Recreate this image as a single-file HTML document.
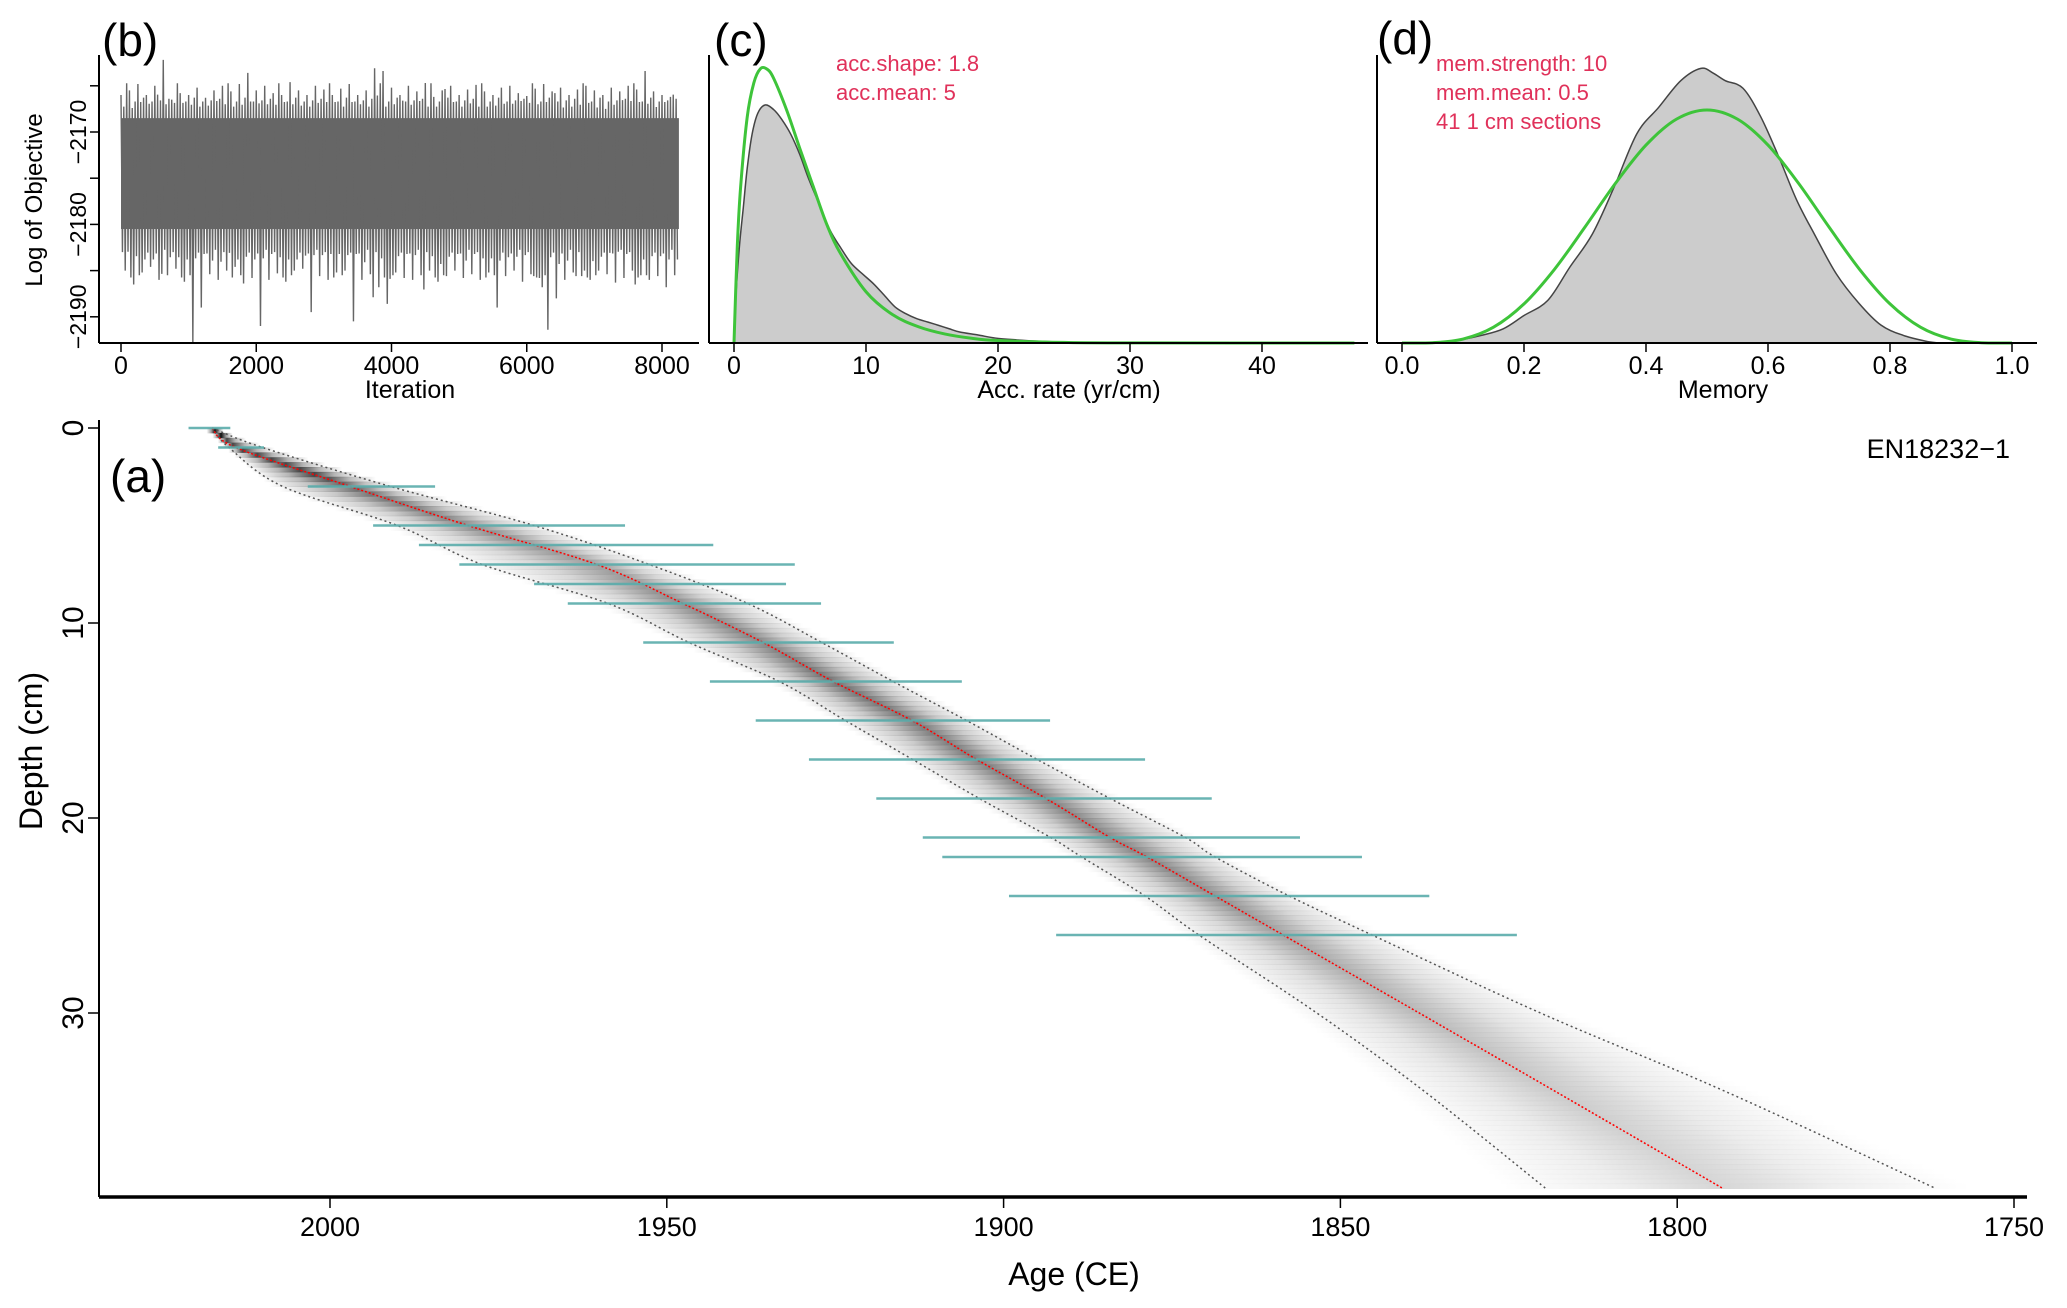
<!DOCTYPE html>
<html><head><meta charset="utf-8"><style>
html,body{margin:0;padding:0;background:#fff}
svg{display:block}
text{font-family:"Liberation Sans",sans-serif}
</style></head><body>
<svg id="fig" width="2067" height="1308" viewBox="0 0 2067 1308" xmlns="http://www.w3.org/2000/svg">
<defs id="defs"></defs>
<g id="pb"></g>
<g id="pc"></g>
<g id="pd"></g>
<g id="pa"></g>
</svg>
<script>
// ---------- data ----------
const traceHi = [-2166,-2165.5,-2164.8,-2166,-2165,-2162.2,-2166.5,-2165.8,-2166,-2165.2,-2166.3,-2165.5,-2165,-2165.6,-2164.8,-2163.6,-2165.5,-2165,-2165.8,-2166,-2164.6,-2165.5,-2166,-2165,-2165.4,-2166,-2165.3,-2164.8,-2166,-2165.5,-2163.1,-2163.4,-2165.2,-2166,-2165,-2165.6,-2164.7,-2166.2,-2165.5,-2165,-2166,-2165.4,-2164.9,-2165.6,-2166,-2165.2,-2165,-2165.8,-2166.1,-2165.3,-2164.8,-2165.6,-2165.2,-2166,-2165.4,-2165,-2165.5,-2166,-2165.2,-2165.6,-2165,-2165.4,-2163.4,-2165.6,-2166,-2166.2];
const traceLo = [-2185,-2186.5,-2185.2,-2184.6,-2186,-2185.5,-2184.8,-2186.2,-2192.8,-2189,-2185.4,-2186,-2185,-2184.6,-2186.4,-2185.8,-2191,-2186,-2185.3,-2186.2,-2185,-2184.8,-2189.5,-2185.6,-2186,-2185.2,-2185,-2190.5,-2186,-2185.4,-2186.8,-2188.6,-2185.2,-2185.8,-2186,-2185.5,-2185,-2186.2,-2185.6,-2185,-2185.8,-2185.4,-2186,-2185.2,-2189,-2185.6,-2185,-2186.2,-2185.4,-2185.8,-2191.4,-2188,-2186,-2185.2,-2185.6,-2186,-2185,-2185.4,-2186.3,-2185.8,-2185,-2185.5,-2186,-2185.6,-2186.8,-2185.5];
const traceCore = [-2168.5, -2180.5];
const traceIterMax = 8250;
const bTicksX = [0,2000,4000,6000,8000];
const bTicksY = [-2165,-2170,-2175,-2180,-2185,-2190];
const bTickLabelsY = ["","\u22122170","","\u22122180","","\u22122190"];

const accX     = [0,0.25,0.5,1,1.5,2,2.5,3,4,5,6,7,8,10,12,14,16,18,20,25,30,47];
const accPrior = [0,0.051,0.082,0.119,0.137,0.1445,0.1443,0.1395,0.1225,0.1022,0.0825,0.063,0.048,0.027,0.015,0.0085,0.0047,0.0025,0.0013,0.0003,0.00005,0];
const accPostX = [0,0.1,0.4,0.71,1.0,1.37,1.8,2.35,3.0,3.6,4.3,5.0,5.6,6.4,7.28,8.1,8.9,9.8,10.6,11.4,12.2,13.0,13.85,14.7,15.5,16.3,17.1,18.5,19.8,21.5,23.1,26,30,47];
const accPost  = [0,0.02,0.05,0.0717,0.092,0.110,0.121,0.1254,0.123,0.118,0.110,0.099,0.0875,0.074,0.0594,0.050,0.0418,0.036,0.031,0.025,0.019,0.0155,0.0128,0.011,0.0093,0.0075,0.0058,0.0042,0.0026,0.0016,0.0009,0.0003,0.0001,0];
const accTicks = [0,10,20,30,40];

const memX     = [0,0.05,0.1,0.15,0.2,0.25,0.3,0.35,0.4,0.45,0.5,0.55,0.6,0.65,0.7,0.75,0.8,0.85,0.9,0.95,1];
const memPrior = [0,0.0032,0.0413,0.1665,0.413,0.7787,1.225,1.687,2.09,2.364,2.461,2.364,2.09,1.687,1.225,0.7787,0.413,0.1665,0.0413,0.0032,0];
const memPostX = [0,0.057,0.1,0.13,0.166,0.2,0.239,0.275,0.312,0.348,0.385,0.421,0.457,0.49,0.51,0.53,0.559,0.588,0.618,0.647,0.676,0.712,0.749,0.785,0.822,0.858,0.88];
const memPost  = [0,0.01,0.04,0.08,0.15,0.29,0.45,0.80,1.15,1.65,2.21,2.49,2.77,2.90,2.85,2.77,2.69,2.39,1.96,1.51,1.15,0.73,0.42,0.19,0.08,0.02,0];
const memTicks = [0,0.2,0.4,0.6,0.8,1.0];
const memTickLabels = ["0.0","0.2","0.4","0.6","0.8","1.0"];

const modelDepths = [0,1,3,5,7,9,11,13,15,17,19,21,22,24,26,30,34,39];
const modelMedian = [2017.5,2014,1997,1979.5,1960.4,1947.6,1935.7,1925.3,1913.6,1904,1893.7,1884.2,1878.7,1868.6,1858.5,1838.3,1818.2,1793.2];
const modelYoung  = [2017.5,2015,2007,1990,1977.4,1958.7,1946.7,1933.3,1923.5,1913.5,1903.6,1893,1888.4,1879,1871,1853.5,1837.6,1819.5];
const modelOld    = [2017.5,2010,1991,1969.7,1952.6,1938,1927,1916.4,1905.5,1895,1884.2,1873,1868.6,1857.6,1845.3,1820.3,1793,1761.6];

const dateDepths = [0,1,3,5,6,7,8,9,11,13,15,17,19,21,22,24,26];
const dateYoung  = [2021,2016.6,2003.3,1993.6,1986.8,1980.8,1969.7,1964.7,1953.5,1943.6,1936.8,1928.9,1918.9,1912.0,1909.1,1899.2,1892.2];
const dateOld    = [2014.8,2009.8,1984.4,1956.2,1943.1,1931.0,1932.3,1927.1,1916.3,1906.2,1893.1,1879.0,1869.1,1856.0,1846.8,1836.8,1823.8];

const ageTicks = [2000,1950,1900,1850,1800,1750];
const depthTicks = [0,10,20,30];
const maxDepth = 39;

// ---------- helpers ----------
const NS = "http://www.w3.org/2000/svg";
function mk(tag, attrs, parent){const e=document.createElementNS(NS,tag);for(const k in attrs)e.setAttribute(k,attrs[k]);parent.appendChild(e);return e;}
function txt(s, attrs, parent){const e=mk("text",attrs,parent);e.textContent=s;return e;}
function interp(xs, ys, x){for(let i=1;i<xs.length;i++){if(x<=xs[i]){const t=(x-xs[i-1])/(xs[i]-xs[i-1]);return ys[i-1]+t*(ys[i]-ys[i-1]);}}return ys[ys.length-1];}
function smooth(pts){
  let d="M"+pts[0][0]+","+pts[0][1];
  for(let i=0;i<pts.length-1;i++){
    const p0=pts[i-1]||pts[i], p1=pts[i], p2=pts[i+1], p3=pts[i+2]||p2;
    const c1=[p1[0]+(p2[0]-p0[0])/6, p1[1]+(p2[1]-p0[1])/6];
    const c2=[p2[0]-(p3[0]-p1[0])/6, p2[1]-(p3[1]-p1[1])/6];
    d+=` C${c1[0]},${c1[1]} ${c2[0]},${c2[1]} ${p2[0]},${p2[1]}`;
  }
  return d;
}

// ---------- panel b ----------
const pb=document.getElementById("pb");
const xb=it=>121+it*(541/8000);
const yb=v=>132+(-2170-v)*9.24;
{
  const n=Math.min(traceHi.length,traceLo.length);
  const w=traceIterMax/n;
  const core=mk("rect",{x:xb(0),y:yb(traceCore[0]),width:xb(traceIterMax)-xb(0),height:yb(traceCore[1])-yb(traceCore[0]),fill:"#666"},pb);
  
  
  let pts=[];
  for(let i=0;i<n;i++){
    const j=(i*7+3)%n, k=(i*11+5)%n;
    pts.push(xb(i*w)+","+yb(traceHi[i]));
    pts.push(xb(i*w+w*0.17)+","+yb((traceLo[k]+traceCore[1])/2));
    pts.push(xb(i*w+w*0.33)+","+yb((traceHi[j]+traceCore[0])/2));
    pts.push(xb(i*w+w*0.5)+","+yb(traceLo[i]));
    pts.push(xb(i*w+w*0.67)+","+yb((traceHi[k]*0.6+traceCore[0]*0.4)));
    pts.push(xb(i*w+w*0.83)+","+yb((traceLo[j]*0.6+traceCore[1]*0.4)));
  }
  const pl=mk("polyline",{points:pts.join(" "),fill:"none",stroke:"#666","stroke-width":1.4},pb);
  
  
  mk("line",{x1:99,y1:55,x2:99,y2:343,stroke:"#000","stroke-width":2},pb);
  mk("line",{x1:99,y1:343,x2:699,y2:343,stroke:"#000","stroke-width":2},pb);
  bTicksX.forEach(t=>{mk("line",{x1:xb(t),x2:xb(t),y1:343,y2:352,stroke:"#000","stroke-width":1.5},pb);
    const e=txt(String(t),{x:xb(t),y:374,"font-size":25,"text-anchor":"middle"},pb);
    
    });
  bTicksY.forEach((t,i)=>{mk("line",{x1:99,x2:90,y1:yb(t),y2:yb(t),stroke:"#000","stroke-width":1.5},pb);
    if(bTickLabelsY[i]){const e=txt(bTickLabelsY[i],{x:0,y:0,"font-size":23,"text-anchor":"middle",transform:`translate(86,${yb(t)}) rotate(-90)`},pb);
    
    }});
  const xl=txt("Iteration",{x:410,y:398,"font-size":25,"text-anchor":"middle"},pb);
  
  
  const yl=txt("Log of Objective",{x:0,y:0,"font-size":24,"text-anchor":"middle",transform:"translate(42,200) rotate(-90)"},pb);
  
  
  const pl2=txt("(b)",{x:102,y:56,"font-size":46},pb);
  
  
}

// ---------- panel c ----------
const pc=document.getElementById("pc");
const xc=a=>734+a*13.2;
const yc=d=>343-d*1898;
{
  const pp=accPostX.map((x,i)=>[xc(x),yc(accPost[i])]);
  const post=mk("path",{d:smooth(pp)+" Z",fill:"#cccccc",stroke:"#444","stroke-width":1.5},pc);
  
  
  const pr=mk("path",{d:smooth(accX.map((x,i)=>[xc(x),yc(accPrior[i])])),fill:"none",stroke:"#3ec43a","stroke-width":3},pc);
  
  
  mk("line",{x1:709,y1:55,x2:709,y2:343,stroke:"#000","stroke-width":2},pc);
  mk("line",{x1:709,y1:343,x2:1368,y2:343,stroke:"#000","stroke-width":2},pc);
  accTicks.forEach(t=>{mk("line",{x1:xc(t),x2:xc(t),y1:343,y2:352,stroke:"#000","stroke-width":1.5},pc);
    const e=txt(String(t),{x:xc(t),y:374,"font-size":25,"text-anchor":"middle"},pc);
    
    });
  const xl=txt("Acc. rate (yr/cm)",{x:1069,y:398,"font-size":25,"text-anchor":"middle"},pc);
  
  
  const a1=txt("acc.shape: 1.8",{x:836,y:71,"font-size":22,fill:"#e0315a"},pc);
  
  
  const a2=txt("acc.mean: 5",{x:836,y:100,"font-size":22,fill:"#e0315a"},pc);
  
  
  const l=txt("(c)",{x:714,y:56,"font-size":46},pc);
  
  
}

// ---------- panel d ----------
const pd=document.getElementById("pd");
const xd=m=>1402+m*610;
const ydm=d=>343-d*94.7;
{
  const pp=memPostX.map((x,i)=>[xd(x),ydm(memPost[i])]);
  const post=mk("path",{d:smooth(pp)+" Z",fill:"#cccccc",stroke:"#444","stroke-width":1.5},pd);
  
  
  const pr=mk("path",{d:smooth(memX.map((x,i)=>[xd(x),ydm(memPrior[i])])),fill:"none",stroke:"#3ec43a","stroke-width":3},pd);
  
  
  mk("line",{x1:1377,y1:55,x2:1377,y2:343,stroke:"#000","stroke-width":2},pd);
  mk("line",{x1:1377,y1:343,x2:2037,y2:343,stroke:"#000","stroke-width":2},pd);
  memTicks.forEach((t,i)=>{mk("line",{x1:xd(t),x2:xd(t),y1:343,y2:352,stroke:"#000","stroke-width":1.5},pd);
    const e=txt(memTickLabels[i],{x:xd(t),y:374,"font-size":25,"text-anchor":"middle"},pd);
    
    });
  const xl=txt("Memory",{x:1723,y:398,"font-size":25,"text-anchor":"middle"},pd);
  
  
  const a1=txt("mem.strength: 10",{x:1436,y:71,"font-size":22,fill:"#e0315a"},pd);
  
  
  const a2=txt("mem.mean: 0.5",{x:1436,y:100,"font-size":22,fill:"#e0315a"},pd);
  
  
  const a3=txt("41 1 cm sections",{x:1436,y:129,"font-size":22,fill:"#e0315a"},pd);
  
  
  const l=txt("(d)",{x:1377,y:54,"font-size":46},pd);
  
  
}

// ---------- panel a ----------
const pa=document.getElementById("pa");
const defs=document.getElementById("defs");
const xa=age=>330+(2000-age)*6.736;
const ya=d=>428+d*19.5;
{
  const step=0.25;
  for(let d=0; d<maxDepth-0.001; d+=step){
    const dm=d+step/2;
    const m=xa(interp(modelDepths,modelMedian,dm));
    const l=xa(interp(modelDepths,modelYoung,dm));
    const r=xa(interp(modelDepths,modelOld,dm));
    const w=Math.max(r-l,14);
    const x0=Math.min(l,m-7)-w*0.1, x1=Math.max(r,m+7)+w*0.1;
    const inten=dm<0.6?0.95:Math.min(0.72,62/w);
    const g=Math.round(255*(1-inten));
    const id="g"+Math.round(d*100);
    const lg=mk("linearGradient",{id:id,gradientUnits:"userSpaceOnUse",x1:x0,y1:0,x2:x1,y2:0},defs);
    const f=(m-x0)/(x1-x0);
    const col=`rgb(${g},${g},${g})`;
    mk("stop",{offset:0,"stop-color":col,"stop-opacity":0},lg);
    mk("stop",{offset:f*0.55,"stop-color":col,"stop-opacity":0.4},lg);
    mk("stop",{offset:f,"stop-color":col,"stop-opacity":1},lg);
    mk("stop",{offset:f+(1-f)*0.45,"stop-color":col,"stop-opacity":0.4},lg);
    mk("stop",{offset:1,"stop-color":col,"stop-opacity":0},lg);
    const rc=mk("rect",{x:x0,y:ya(d),width:x1-x0,height:ya(d+step)-ya(d)+0.5,fill:`url(#${id})`},pa);
    
    
  }
  const lineOf=arr=>smooth(modelDepths.map((d,i)=>[xa(arr[i]),ya(d)]));
  const yl=mk("path",{d:lineOf(modelYoung),fill:"none",stroke:"#555","stroke-width":1.5,"stroke-dasharray":"2 3"},pa);
  
  
  const ol=mk("path",{d:lineOf(modelOld),fill:"none",stroke:"#555","stroke-width":1.5,"stroke-dasharray":"2 3"},pa);
  
  
  const ml=mk("path",{d:lineOf(modelMedian),fill:"none",stroke:"#ff0000","stroke-width":1.5,"stroke-dasharray":"2 2"},pa);
  
  
  dateDepths.forEach((d,i)=>{
    const b=mk("line",{x1:xa(dateYoung[i]),x2:xa(dateOld[i]),y1:ya(d),y2:ya(d),stroke:"#5aacab","stroke-width":2.5,"stroke-opacity":0.9},pa);
    
    
  });
  mk("line",{x1:99,y1:420,x2:99,y2:1197,stroke:"#000","stroke-width":2},pa);
  mk("line",{x1:99,y1:1197,x2:2027,y2:1197,stroke:"#000","stroke-width":3.5},pa);
  ageTicks.forEach(t=>{mk("line",{x1:xa(t),x2:xa(t),y1:1197,y2:1208,stroke:"#000","stroke-width":1.5},pa);
    const e=txt(String(t),{x:xa(t),y:1236,"font-size":27,"text-anchor":"middle"},pa);
    
    });
  depthTicks.forEach(t=>{mk("line",{x1:99,x2:88,y1:ya(t),y2:ya(t),stroke:"#000","stroke-width":1.5},pa);
    const e=txt(String(t),{x:0,y:0,"font-size":30,"text-anchor":"middle",transform:`translate(83,${ya(t)}) rotate(-90)`},pa);
    
    });
  const xt=txt("Age (CE)",{x:1074,y:1285,"font-size":32,"text-anchor":"middle"},pa);
  
  
  const yt=txt("Depth (cm)",{x:0,y:0,"font-size":32,"text-anchor":"middle",transform:"translate(42,751) rotate(-90)"},pa);
  
  
  const core=txt("EN18232\u22121",{x:2010,y:458,"font-size":27,"text-anchor":"end"},pa);
  
  
  const l=txt("(a)",{x:110,y:492,"font-size":46},pa);
  
  
}
</script>
</body></html>
